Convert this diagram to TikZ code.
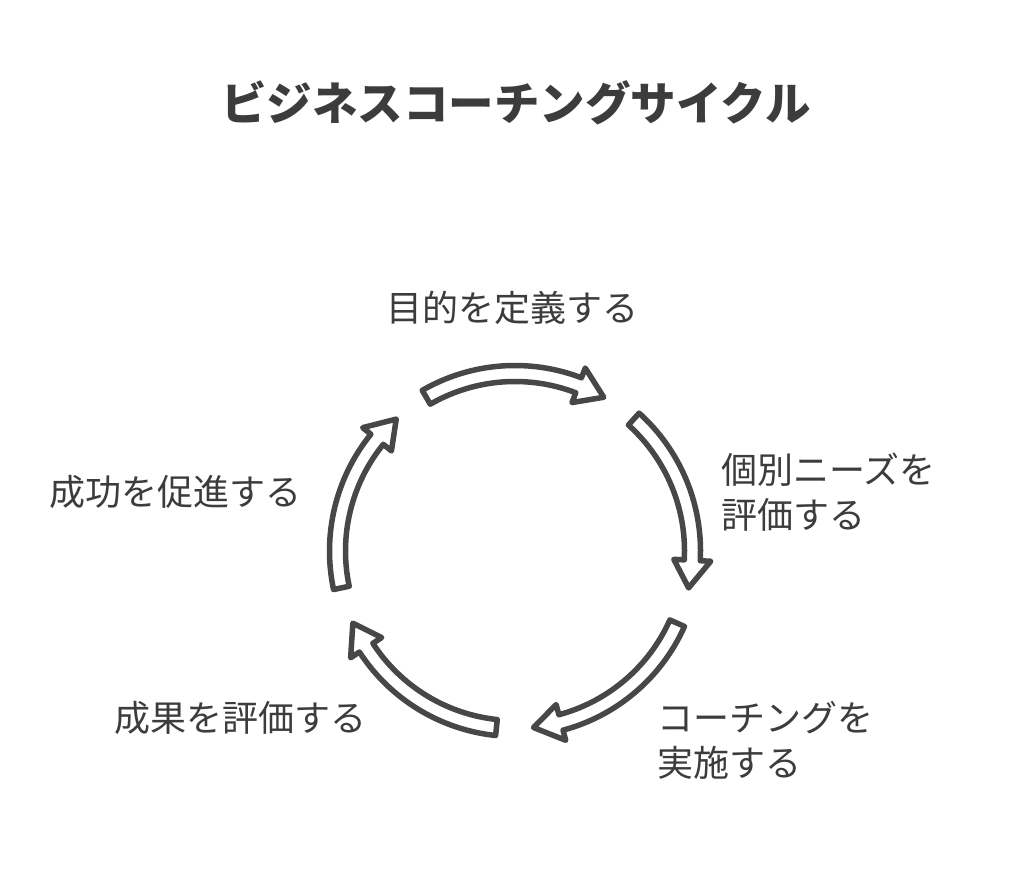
\documentclass[tikz,border=0pt]{standalone}
\usepackage{fontspec}
\setmainfont{Noto Sans CJK JP}
\definecolor{arr}{HTML}{474747}
\definecolor{txt}{HTML}{3C3C3C}
\begin{document}
\begin{tikzpicture}[x=1pt,y=1pt,
  arrowshape/.style={draw=arr, fill=white, line width=5.5pt, line join=round},
  lbl/.style={text=txt, font=\fontsize{36}{45}\selectfont, inner sep=0pt},
  ttl/.style={text=txt, font=\fontsize{45.5}{50}\selectfont\bfseries, inner sep=0pt}]
\useasboundingbox (0,0) rectangle (1024,873);
\coordinate (c) at (515,322);
\def\Ro{185.5}\def\Ri{169.5}\def\Rm{177.5}\def\Rho{196}\def\Rhi{159}\def\hl{9}
\foreach \cc in {90,18,-54,-126,-198}{
  \pgfmathsetmacro{\aA}{\cc+30}
  \pgfmathsetmacro{\aB}{\cc-30}
  \pgfmathsetmacro{\aH}{\cc-30+\hl}
  \begin{scope}[shift={(c)}]
  \draw[arrowshape] (\aA:\Ro) arc[start angle=\aA, end angle=\aH, radius=\Ro]
    -- (\aH:\Rho) -- (\aB:\Rm) -- (\aH:\Rhi) -- (\aH:\Ri)
    arc[start angle=\aH, end angle=\aA, radius=\Ri] -- cycle;
  \end{scope}
}
\node[ttl] (title) at (516,770) {ビジネスコーチングサイクル};
\node[lbl] (l1) at (512,565) {目的を定義する};
\node[lbl, align=left, anchor=west] (l2) at (721,381) {個別ニーズを\\評価する};
\node[lbl, align=left, anchor=west] (l3) at (657,133) {コーチングを\\実施する};
\node[lbl] (l4) at (240,155) {成果を評価する};
\node[lbl] (l5) at (175,381) {成功を促進する};
\end{tikzpicture}
\end{document}
